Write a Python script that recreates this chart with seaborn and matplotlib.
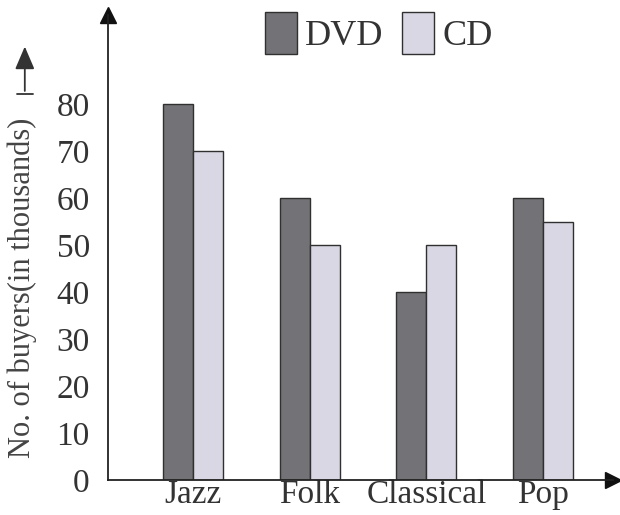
import pandas as pd
import matplotlib
matplotlib.use('Agg')
import matplotlib.pyplot as plt
import seaborn as sns

# Values
genres = ['Jazz', 'Folk', 'Classical', 'Pop']
dvd_buyers = [80, 60, 40, 60]
cd_buyers = [70, 50, 50, 55]
y_ticks = [0, 10, 20, 30, 40, 50, 60, 70, 80]

data = pd.DataFrame({
    'Genre': genres * 2,
    'Buyers': dvd_buyers + cd_buyers,
    'Format': ['DVD'] * len(genres) + ['CD'] * len(genres),
})

sns.set_style('white')
plt.rcParams['font.family'] = ['Liberation Serif', 'DejaVu Serif']

fig = plt.figure(figsize=(6.2, 5.15), dpi=100)
ax = fig.add_axes([0.174, 0.068, 0.815, 0.903])

sns.barplot(data=data, x='Genre', y='Buyers', hue='Format',
            palette={'DVD': '#737276', 'CD': '#d9d7e3'},
            width=0.514, gap=0, edgecolor='#303030', linewidth=1.0,
            saturation=1, ax=ax)

ax.set_xlim(-0.73, 3.60)
ax.set_ylim(0, 99)
ax.set_yticks(y_ticks)
ax.tick_params(axis='y', direction='inout', length=8, width=1.2,
               labelsize=24, colors='#333333', pad=9)
ax.tick_params(axis='x', length=0, labelsize=24, colors='#333333', pad=0)
ax.set_xlabel('')
ax.set_ylabel('No. of buyers(in thousands)', fontsize=22, color='#444444')
ax.yaxis.set_label_coords(-0.141, 0.414)

for side in ['top', 'right']:
    ax.spines[side].set_visible(False)
for side in ['left', 'bottom']:
    ax.spines[side].set_color('#222222')
    ax.spines[side].set_linewidth(1.3)

# arrow heads at the axis ends
ax.plot(0, 1, marker='^', color='#111111', markersize=12, transform=ax.transAxes, clip_on=False)
ax.plot(1, 0, marker='>', color='#111111', markersize=12, transform=ax.transAxes, clip_on=False)

# arrow after the y label
fig.add_artist(matplotlib.patches.FancyArrowPatch(
    (0.040, 0.818), (0.040, 0.915), transform=fig.transFigure,
    arrowstyle='-|>,head_width=0.3,head_length=0.7', mutation_scale=20,
    color='#333333', linewidth=1.3))
fig.add_artist(matplotlib.lines.Line2D([0.027, 0.053], [0.818, 0.818],
                                       transform=fig.transFigure, color='#333333', linewidth=1.3))

ax.legend(loc='upper left', bbox_to_anchor=(0.427, 0.977), bbox_transform=fig.transFigure,
          ncol=2, frameon=False, fontsize=26, handlelength=0.9, handleheight=1.4,
          handletextpad=0.22, columnspacing=0.5, borderpad=0, borderaxespad=0,
          labelcolor='#333333')

fig.savefig('out.png', dpi=100)
